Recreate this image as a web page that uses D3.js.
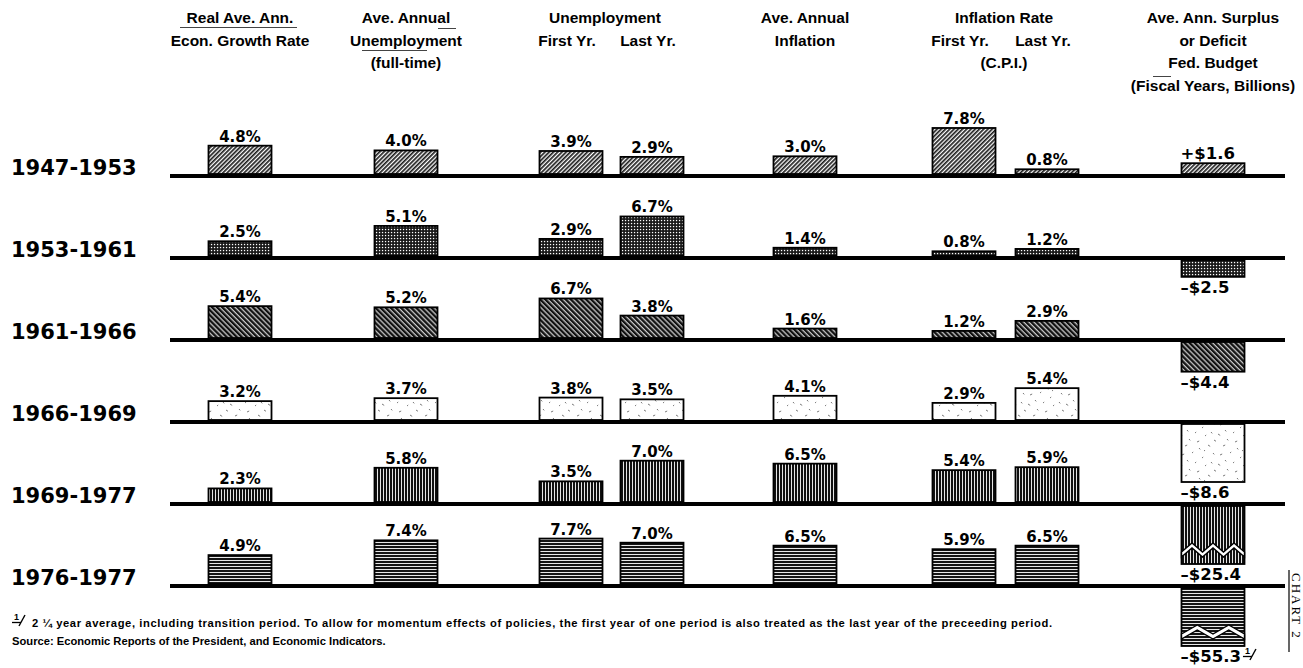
<!DOCTYPE html>
<html>
<head>
<meta charset="utf-8">
<script src="https://cdn.jsdelivr.net/npm/d3@7"></script>
<style>
  html, body { margin: 0; padding: 0; background: #fff; }
  svg { display: block; }
</style>
</head>
<body>
<svg id="chart" width="1303" height="668"></svg>
<script>
// ---- data -----------------------------------------------------------
const periods      = ["1947-1953", "1953-1961", "1961-1966", "1966-1969", "1969-1977", "1976-1977"];
const growth       = [4.8, 2.5, 5.4, 3.2, 2.3, 4.9];   // real ave. ann. econ. growth rate, %
const unemployment = [4.0, 5.1, 5.2, 3.7, 5.8, 7.4];   // ave. annual unemployment, %
const unempFirst   = [3.9, 2.9, 6.7, 3.8, 3.5, 7.7];   // unemployment, first year, %
const unempLast    = [2.9, 6.7, 3.8, 3.5, 7.0, 7.0];   // unemployment, last year, %
const inflation    = [3.0, 1.4, 1.6, 4.1, 6.5, 6.5];   // ave. annual inflation, %
const cpiFirst     = [7.8, 0.8, 1.2, 2.9, 5.4, 5.9];   // CPI inflation, first year, %
const cpiLast      = [0.8, 1.2, 2.9, 5.4, 5.9, 6.5];   // CPI inflation, last year, %
const budget       = [1.6, -2.5, -4.4, -8.6, -25.4, -55.3]; // ave. ann. federal surplus/deficit, $ billions
const budgetNote   = [false, false, false, false, false, true];

const headerGroups = [
  { col: "growth", lines: ["Real Ave. Ann.", "Econ. Growth Rate"] },
  { col: "unemp",  lines: ["Ave. Annual", "Unemployment", "(full-time)"] },
  { col: "unempPair", lines: ["Unemployment"] },
  { col: "infl",   lines: ["Ave. Annual", "Inflation"] },
  { col: "cpiPair", lines: ["Inflation Rate", null, "(C.P.I.)"] },
  { col: "budget", lines: ["Ave. Ann. Surplus", "or Deficit", "Fed. Budget", "(Fiscal Years, Billions)"] }
];
const yearLabels = ["First Yr.", "Last Yr."];
const footnoteText = "2 \u00BC year average, including transition period. To allow for momentum effects of policies, the first year of one period is also treated as the  last year of the preceeding period.";
const sourceText = "Source: Economic Reports of the President, and Economic Indicators.";
const chartTag = "CHART 2";

// ---- layout ---------------------------------------------------------
const svg = d3.select("#chart");
const LINE_X0 = 170, LINE_X1 = 1285, BAR_W = 63;

const yRow = d3.scalePoint().domain(periods).range([176, 586]);
const hPct = d3.scaleLinear().domain([0, 8]).range([0, 47.2]);
// deficits larger than the scale's top are drawn at full height with a break
const hBud = d3.scaleLinear().domain([0, 8.6]).range([0, 58]).clamp(true);

const colKeys = ["growth", "unemp", "unempFirst", "unempLast", "infl", "cpiFirst", "cpiLast", "budget", "unempPair", "cpiPair"];
const xCol = d3.scaleOrdinal().domain(colKeys)
  .range([240, 406, 571, 652, 805, 964, 1047, 1213, 605, 1004]);
const headerY = [23, 46, 68, 91];

const pctSeries = [
  { key: "growth", values: growth },
  { key: "unemp", values: unemployment },
  { key: "unempFirst", values: unempFirst },
  { key: "unempLast", values: unempLast },
  { key: "infl", values: inflation },
  { key: "cpiFirst", values: cpiFirst },
  { key: "cpiLast", values: cpiLast }
];

const HEAD_FONT = "'Liberation Sans', Arial, sans-serif";
const NUM_FONT = "'DejaVu Sans', 'Liberation Sans', sans-serif";

// ---- fill patterns, one per period ---------------------------------
const defs = svg.append("defs");
function pattern(id, w, h, transform) {
  const p = defs.append("pattern").attr("id", id)
    .attr("patternUnits", "userSpaceOnUse").attr("width", w).attr("height", h);
  if (transform) p.attr("patternTransform", transform);
  return p;
}
// 1947-53: fine forward hatching
let p = pattern("hatchFwd", 3, 3, "rotate(45)");
p.append("rect").attr("width", 3).attr("height", 3).attr("fill", "#fff");
p.append("rect").attr("width", 1.7).attr("height", 3).attr("fill", "#1e1e1e");
// 1953-61: halftone dots
p = pattern("dots", 3, 3);
p.append("rect").attr("width", 3).attr("height", 3).attr("fill", "#161616");
p.append("rect").attr("x", 0.9).attr("y", 0.9).attr("width", 1.3).attr("height", 1.3).attr("fill", "#fff");
// 1961-66: dark back hatching
p = pattern("hatchBack", 3.6, 3.6, "rotate(-45)");
p.append("rect").attr("width", 3.6).attr("height", 3.6).attr("fill", "#111");
p.append("rect").attr("x", 2.4).attr("width", 1).attr("height", 3.6).attr("fill", "#fff");
// 1966-69: light speckle
p = pattern("speckle", 38, 30);
p.append("rect").attr("width", 38).attr("height", 30).attr("fill", "#fff");
const specks = [[4,5],[11,19],[24,8],[30,25],[17,13],[35,3],[7,26],[21,28],[27,16],[2,14],[14,3],[33,12],[19,22],[9,10],[26,1],[36,20]];
specks.forEach(([sx, sy], i) => {
  p.append("line").attr("x1", sx).attr("y1", sy).attr("x2", sx + (i % 3 === 0 ? 2.2 : 1.2)).attr("y2", sy + (i % 2 ? 1.4 : -1))
    .attr("stroke", "#6a6a6a").attr("stroke-width", 0.9);
});
// 1969-77: vertical rules
p = pattern("vstripes", 3, 3);
p.append("rect").attr("width", 3).attr("height", 3).attr("fill", "#111");
p.append("rect").attr("x", 2).attr("width", 0.9).attr("height", 3).attr("fill", "#fff");
// 1976-77: horizontal rules
p = pattern("hstripes", 3, 3);
p.append("rect").attr("width", 3).attr("height", 3).attr("fill", "#141414");
p.append("rect").attr("y", 2).attr("width", 3).attr("height", 0.9).attr("fill", "#fff");

const fillFor = d3.scaleOrdinal().domain(periods)
  .range(["url(#hatchFwd)", "url(#dots)", "url(#hatchBack)", "url(#speckle)", "url(#vstripes)", "url(#hstripes)"]);

// ---- column headings ------------------------------------------------
const head = svg.append("g").attr("font-family", HEAD_FONT).attr("font-weight", "bold")
  .attr("font-size", 15.5).attr("fill", "#000").attr("text-anchor", "middle");
headerGroups.forEach(g => {
  g.lines.forEach((t, i) => {
    if (t === null) return;
    head.append("text").attr("x", xCol(g.col)).attr("y", headerY[i]).text(t);
  });
});
[["unempFirst", "unempLast"], ["cpiFirst", "cpiLast"]].forEach(pair => {
  pair.forEach((k, i) => {
    head.append("text").attr("x", xCol(k) - 4).attr("y", headerY[1]).text(yearLabels[i]);
  });
});
// rule marks in the heading block
const rules = svg.append("g").attr("stroke", "#444").attr("stroke-width", 1);
rules.append("line").attr("x1", 180).attr("x2", 297).attr("y1", 27.5).attr("y2", 27.5);
rules.append("line").attr("x1", 438).attr("x2", 456).attr("y1", 28.5).attr("y2", 28.5);
rules.append("line").attr("x1", 362).attr("x2", 427).attr("y1", 50.5).attr("y2", 50.5);
rules.append("line").attr("x1", 1153).attr("x2", 1171).attr("y1", 76.5).attr("y2", 76.5);

// ---- period rows ----------------------------------------------------
const rows = svg.append("g");

// period labels
rows.selectAll("text.period").data(periods).join("text")
  .attr("class", "period")
  .attr("x", 11).attr("y", d => yRow(d) - 1)
  .attr("font-family", NUM_FONT).attr("font-weight", "bold").attr("font-size", 21)
  .text(d => d);

// percentage bars
const fmt = d3.format(".1f");
pctSeries.forEach(s => {
  const g = rows.append("g");
  const data = periods.map((per, i) => ({ per, v: s.values[i] }));
  g.selectAll("rect").data(data).join("rect")
    .attr("x", xCol(s.key) - BAR_W / 2)
    .attr("y", d => yRow(d.per) - 2 - hPct(d.v))
    .attr("width", BAR_W)
    .attr("height", d => hPct(d.v))
    .attr("fill", d => fillFor(d.per))
    .attr("stroke", "#000").attr("stroke-width", 1.8);
  g.selectAll("text").data(data).join("text")
    .attr("x", xCol(s.key))
    .attr("y", d => yRow(d.per) - 2 - hPct(d.v) - 4)
    .attr("text-anchor", "middle")
    .attr("font-family", NUM_FONT).attr("font-weight", "bold").attr("font-size", 15)
    .text(d => fmt(d.v) + "%");
});

// budget surplus / deficit bars
function footMark(g, x, y) {
  g.append("text").attr("x", x + 2).attr("y", y - 8).attr("font-family", HEAD_FONT)
    .attr("font-weight", "bold").attr("font-size", 9).text("1");
  g.append("line").attr("x1", x).attr("x2", x + 9).attr("y1", y - 5.5).attr("y2", y - 5.5)
    .attr("stroke", "#000").attr("stroke-width", 1.3);
  g.append("line").attr("x1", x + 7).attr("x2", x + 13).attr("y1", y - 2).attr("y2", y - 13)
    .attr("stroke", "#000").attr("stroke-width", 1.4);
}
const budG = rows.append("g");
const bx = xCol("budget") - BAR_W / 2;
periods.forEach((per, i) => {
  const v = budget[i];
  const h = hBud(Math.abs(v));
  const y0 = yRow(per);
  const top = v >= 0 ? y0 - 2 - h : y0 + 2;
  budG.append("rect")
    .attr("x", bx).attr("y", top).attr("width", BAR_W).attr("height", h)
    .attr("fill", fillFor(per)).attr("stroke", "#000").attr("stroke-width", 1.8);

  // bars beyond the scale get a zigzag break
  if (Math.abs(v) > hBud.domain()[1]) {
    const peaks = i === 4 ? 3 : 2, n = peaks * 2, amp = 9, band = 5;
    const yb = top + h - 21;
    const upper = d3.range(n + 1).map(k => [bx + k * BAR_W / n, yb + (k % 2 === 0 ? amp : 0)]);
    const lower = upper.map(([x, y]) => [x, y + band]).reverse();
    budG.append("polygon")
      .attr("points", upper.concat(lower).map(pt => pt.join(",")).join(" "))
      .attr("fill", "#fff").attr("stroke", "#000").attr("stroke-width", 1.4);
  }

  const label = budG.append("text")
    .attr("x", bx - 1)
    .attr("y", v >= 0 ? top - 4 : top + h + 16)
    .attr("font-family", NUM_FONT).attr("font-weight", "bold").attr("font-size", 16.5)
    .text((v >= 0 ? "+$" : "\u2013$") + fmt(Math.abs(v)));
  if (budgetNote[i]) {
    const w = label.node().getComputedTextLength();
    footMark(budG, bx - 1 + w + 2, top + h + 16);
  }
});

// period base lines
rows.selectAll("line.base").data(periods).join("line")
  .attr("class", "base")
  .attr("x1", LINE_X0).attr("x2", LINE_X1)
  .attr("y1", d => yRow(d)).attr("y2", d => yRow(d))
  .attr("stroke", "#000").attr("stroke-width", 4);

// ---- footnotes ------------------------------------------------------
const foot = svg.append("g").attr("font-family", HEAD_FONT).attr("font-weight", "bold").attr("font-size", 11.2);
footMark(foot, 12, 628);
foot.append("text").attr("x", 32).attr("y", 627).attr("textLength", 1020).attr("lengthAdjust", "spacing").text(footnoteText);
foot.append("text").attr("x", 12).attr("y", 645).text(sourceText);

// ---- chart tag at the right margin ----------------------------------
svg.append("line").attr("x1", 1289).attr("x2", 1289).attr("y1", 570).attr("y2", 652)
  .attr("stroke", "#000").attr("stroke-width", 1.2);
svg.append("text")
  .attr("transform", "translate(1292,573) rotate(90)")
  .attr("font-family", "'Liberation Serif', 'DejaVu Serif', serif")
  .attr("font-size", 13).attr("letter-spacing", 2)
  .text(chartTag);
</script>
</body>
</html>
